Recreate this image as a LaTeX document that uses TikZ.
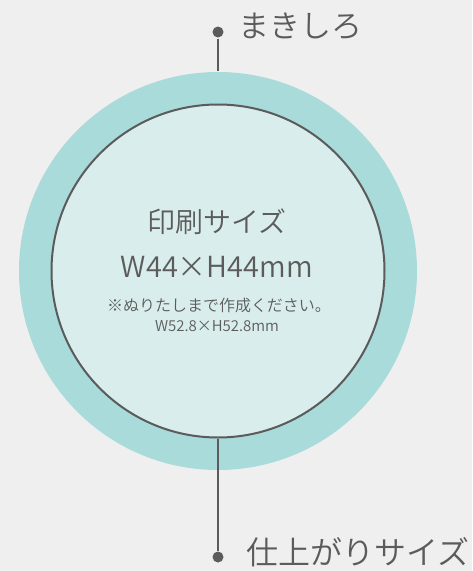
\documentclass[tikz,border=0pt]{standalone}
\usepackage{fontspec}
\setmainfont{Noto Sans CJK JP DemiLight}
\definecolor{bggray}{HTML}{EEEFEE}
\definecolor{ringteal}{HTML}{A9DBDA}
\definecolor{printteal}{HTML}{D8EDEC}
\definecolor{inkgray}{HTML}{5B5B5B}

\begin{document}
\begin{tikzpicture}[x=1pt,y=-1pt,line width=2pt,draw=inkgray,text=inkgray]
    \tikzstyle{dot}=[circle,fill=inkgray,inner sep=0pt,minimum size=11pt]
    \tikzstyle{label}=[anchor=west,inner sep=0pt]

    % Background and bounding box
    \fill[bggray] (0,0) rectangle (472,571);
    \useasboundingbox (0,0) rectangle (472,571);

    % Draw the bleed and the trim circles
    \node[circle,fill=ringteal,inner sep=0pt,minimum size=398pt] (bleed) at (218,271) {};
    \node[circle,draw,fill=printteal,inner sep=0pt,minimum size=333pt] (trim) at (218,271) {};

    % Draw the leader dots
    \node[dot] (top) at (218,32) {};
    \node[dot] (bot) at (218,557) {};

    % Connect the dots with the circles
    \draw (top) -- (bleed.north);
    \draw (trim.south) -- (bot);

    % Annotate the circles
    \node[label,font=\fontsize{31}{31}\selectfont] (maki) at (237,26) {まきしろ};
    \node[label,font=\fontsize{32}{32}\selectfont] (fin) at (245,552) {仕上がりサイズ};

    % Sizes inside the circle
    \node[font=\fontsize{28}{28}\selectfont] (ps) at (217,222) {印刷サイズ};
    \node[font=\fontsize{29}{29}\selectfont] (sz) at (217,267) {W44×H44mm};
    \node[font=\fontsize{16}{16}\selectfont] (note) at (219,305) {※ぬりたしまで作成ください。};
    \node[font=\fontsize{15}{15}\selectfont] (bsz) at (217,326) {W52.8×H52.8mm};
\end{tikzpicture}
\end{document}
